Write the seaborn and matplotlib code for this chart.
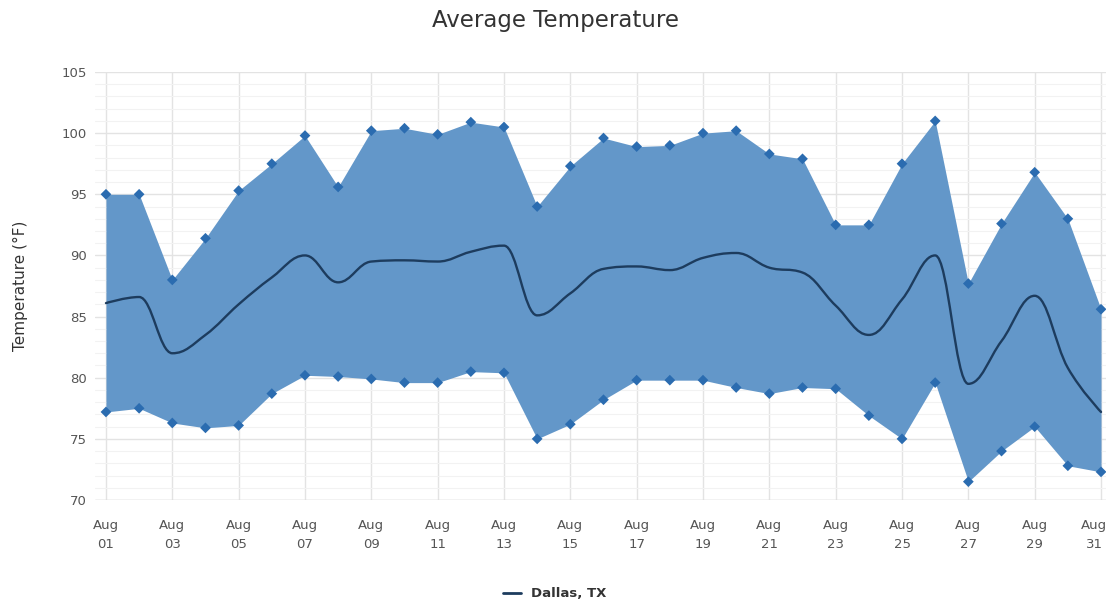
import numpy as np
import pandas as pd
import seaborn as sns
import matplotlib.pyplot as plt
from matplotlib.path import Path
from matplotlib.patches import PathPatch
from matplotlib.lines import Line2D
from matplotlib.ticker import MultipleLocator
from matplotlib.transforms import ScaledTranslation

days = list(range(1, 32))
high = [95.0, 95.0, 88.0, 91.4, 95.3, 97.5, 99.8, 95.6, 100.2, 100.4,
        99.9, 100.9, 100.5, 94.0, 97.3, 99.6, 98.9, 99.0, 100.0, 100.2,
        98.3, 97.9, 92.5, 92.5, 97.5, 101.0, 87.7, 92.6, 96.8, 93.0, 85.6]
low = [77.2, 77.5, 76.3, 75.9, 76.1, 78.7, 80.2, 80.1, 79.9, 79.6,
       79.6, 80.5, 80.4, 75.0, 76.2, 78.2, 79.8, 79.8, 79.8, 79.2,
       78.7, 79.2, 79.1, 76.9, 75.0, 79.6, 71.5, 74.0, 76.0, 72.8, 72.3]
avg = [86.1, 86.6, 82.0, 83.5, 86.0, 88.2, 90.0, 87.8, 89.5, 89.6,
       89.5, 90.3, 90.8, 85.1, 86.9, 88.9, 89.1, 88.8, 89.8, 90.2,
       89.0, 88.6, 85.9, 83.5, 86.4, 90.0, 79.5, 83.0, 86.7, 80.8, 77.2]
tick_days = list(range(1, 32, 2))
tick_labels = ["Aug\n%02d" % d for d in tick_days]

df = pd.DataFrame({"day": days, "high": high, "low": low, "avg": avg})

fill_color = "#6397c9"
marker_color = "#2b6cb0"
line_color = "#1d3c5e"


def spline_path(xs, ys, smoothing=1.5):
    # highcharts-like spline through the points as cubic beziers
    denom = smoothing + 1
    n = len(xs)
    ctrl = []
    for i in range(n):
        if i == 0 or i == n - 1:
            ctrl.append((xs[i], ys[i], xs[i], ys[i]))
            continue
        lx = (smoothing * xs[i] + xs[i - 1]) / denom
        ly = (smoothing * ys[i] + ys[i - 1]) / denom
        rx = (smoothing * xs[i] + xs[i + 1]) / denom
        ry = (smoothing * ys[i] + ys[i + 1]) / denom
        corr = (ry - ly) * (rx - xs[i]) / (rx - lx) + ys[i] - ry
        ly += corr
        ry += corr
        if ly > ys[i - 1] and ly > ys[i]:
            ly = max(ys[i - 1], ys[i])
            ry = 2 * ys[i] - ly
        elif ly < ys[i - 1] and ly < ys[i]:
            ly = min(ys[i - 1], ys[i])
            ry = 2 * ys[i] - ly
        if ry > ys[i + 1] and ry > ys[i]:
            ry = max(ys[i + 1], ys[i])
            ly = 2 * ys[i] - ry
        elif ry < ys[i + 1] and ry < ys[i]:
            ry = min(ys[i + 1], ys[i])
            ly = 2 * ys[i] - ry
        ctrl.append((lx, ly, rx, ry))
    verts = [(xs[0], ys[0])]
    codes = [Path.MOVETO]
    for i in range(1, n):
        verts += [(ctrl[i - 1][2], ctrl[i - 1][3]), (ctrl[i][0], ctrl[i][1]), (xs[i], ys[i])]
        codes += [Path.CURVE4] * 3
    return Path(verts, codes)


sns.set_style("white")
plt.rcParams["font.family"] = ["DejaVu Sans"]

fig = plt.figure(figsize=(11.1, 6.03), dpi=100)
ax = fig.add_axes([0.0856, 0.1708, 0.9108, 0.7098])

ax.fill_between(df["day"], df["low"], df["high"], color=fill_color, lw=0, zorder=2)
sns.scatterplot(data=df, x="day", y="high", marker="D", s=30, color=marker_color,
                edgecolor="none", ax=ax, zorder=3)
sns.scatterplot(data=df, x="day", y="low", marker="D", s=30, color=marker_color,
                edgecolor="none", ax=ax, zorder=3)
ax.add_patch(PathPatch(spline_path(days, avg), fill=False, edgecolor=line_color,
                       lw=1.7, zorder=4, capstyle="round"))

ax.set_xlim(0.67, 31.15)
ax.set_ylim(70, 105)
ax.set_xticks(tick_days)
ax.set_xticklabels(tick_labels, fontsize=9.5, color="#555555", linespacing=1.6)
ax.yaxis.set_major_locator(MultipleLocator(5))
ax.yaxis.set_minor_locator(MultipleLocator(1))
ax.tick_params(axis="y", labelsize=9.5, colors="#555555", length=0, pad=6)
ax.tick_params(axis="x", length=0, pad=14)
ax.grid(True, which="major", axis="both", color="#e3e3e3", lw=1, zorder=0)
ax.grid(True, which="minor", axis="y", color="#f2f2f2", lw=0.8, zorder=0)
ax.set_axisbelow(True)
for s in ax.spines.values():
    s.set_visible(False)
ax.axhline(70, color="#d8d8d8", lw=1, zorder=1)

# keep the last date label inside the figure
last = ax.get_xticklabels()[-1]
last.set_transform(last.get_transform() + ScaledTranslation(-7 / 100, 0, fig.dpi_scale_trans))

ax.set_xlabel("")
ax.set_ylabel("Temperature (°F)", fontsize=11, color="#333333")
ax.yaxis.set_label_coords(-0.066, 0.5)

fig.suptitle("Average Temperature", fontsize=16.5, color="#333333", y=0.985)

handle = Line2D([], [], color=line_color, lw=2)
leg = fig.legend([handle], ["Dallas, TX"], loc="center", bbox_to_anchor=(0.5, 0.015),
                 frameon=False, handlelength=1.3, prop={"weight": "bold", "size": 9.5})
for t in leg.get_texts():
    t.set_color("#333333")

fig.savefig("out.png", dpi=100)
